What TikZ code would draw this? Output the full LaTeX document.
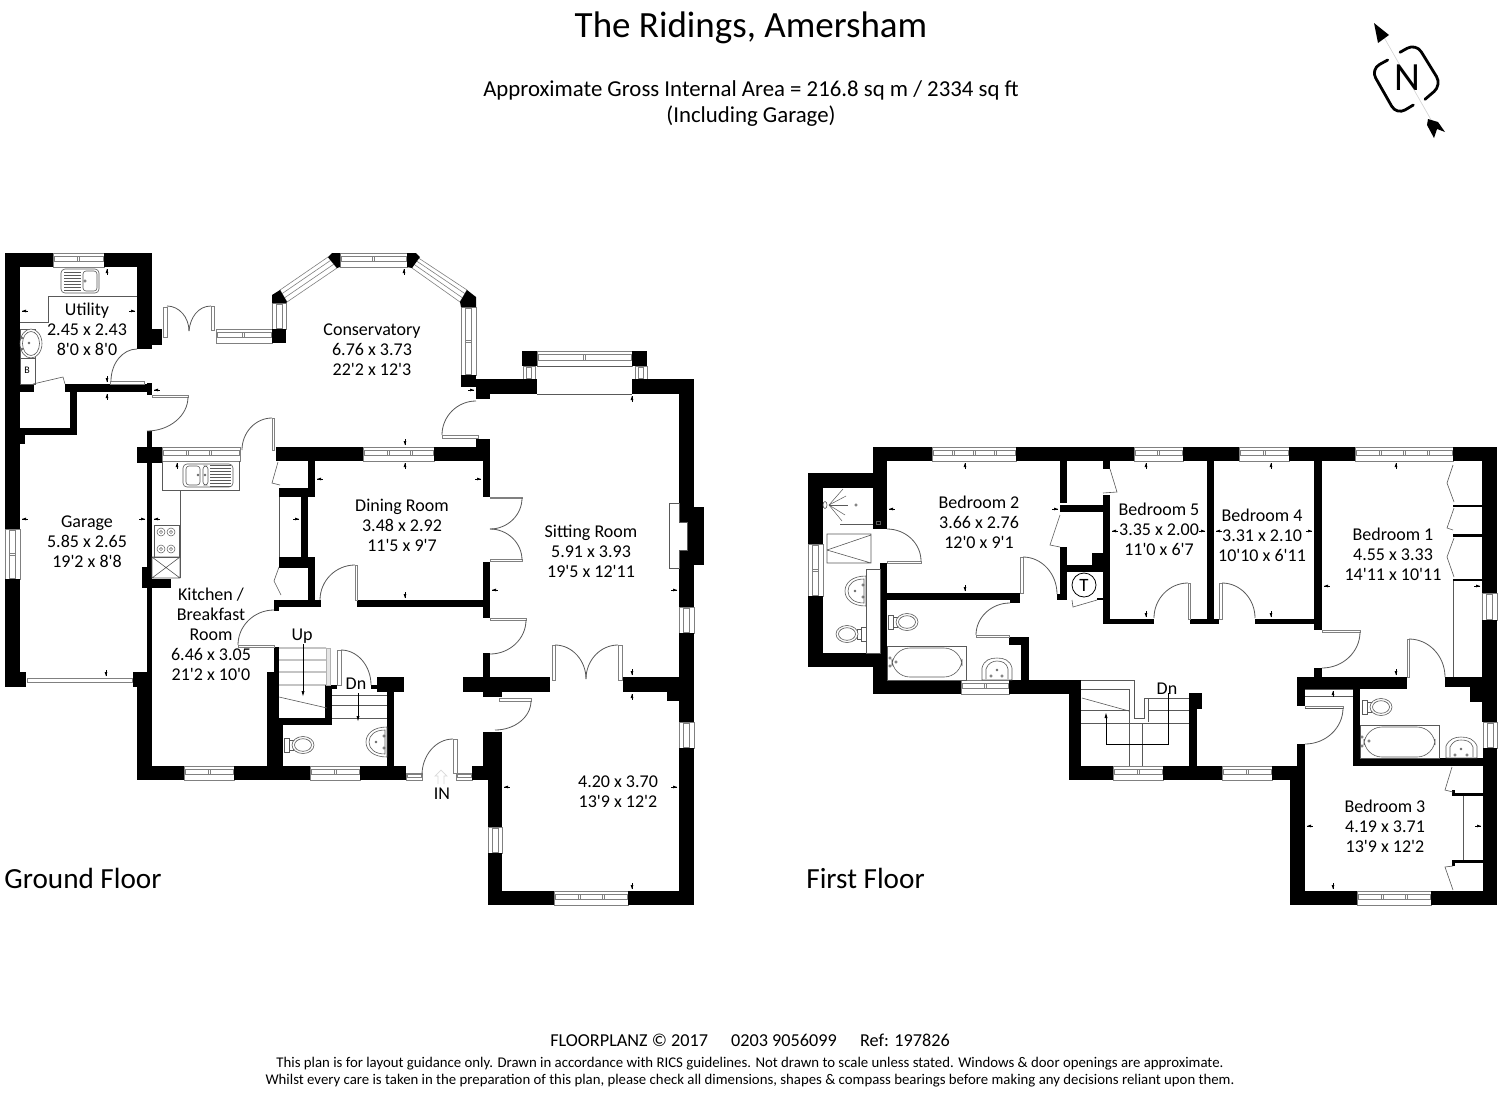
\documentclass[tikz,border=0pt]{standalone}
\usepackage{fontspec}
\setmainfont{Carlito}[Ligatures=TeXOff]
\usetikzlibrary{calc}
\definecolor{ln}{gray}{0.35}
\definecolor{wn}{gray}{0.5}
\newcommand\W[4]{\fill[black] (#1,#2) rectangle (#3,#4);}
\newcommand\WH[5]{%
 \draw[wn,line width=.3pt,fill=white] (#1,#3) rectangle (#2,#4);
 \draw[wn,line width=.3pt] ({#1+1},{#3+.25*(#4-#3)}) rectangle ({#2-1},{#3+.6*(#4-#3)});
 \foreach \m in {#5}{\draw[wn,line width=.3pt] (\m-1,{#3+.25*(#4-#3)}) rectangle (\m+1,{#3+.6*(#4-#3)});}}
\newcommand\WV[5]{%
 \draw[wn,line width=.3pt,fill=white] (#3,#1) rectangle (#4,#2);
 \draw[wn,line width=.3pt] ({#3+.3*(#4-#3)},{#1+1}) rectangle ({#3+.7*(#4-#3)},{#2-1});
 \foreach \m in {#5}{\draw[wn,line width=.3pt] ({#3+.3*(#4-#3)},\m-1) rectangle ({#3+.7*(#4-#3)},\m+1);}}
\newcommand\WD[8]{%
 \draw[wn,line width=.3pt,fill=white] (#1,#2)--(#3,#4)--(#7,#8)--(#5,#6)--cycle;
 \draw[wn,line width=.3pt] ($(#1,#2)!.3!(#5,#6)$)--($(#3,#4)!.3!(#7,#8)$) ($(#1,#2)!.65!(#5,#6)$)--($(#3,#4)!.65!(#7,#8)$);}
% quarter arcs: h = leaves start horizontally, v = leaves start vertically
\newcommand\qh[4]{\draw[ln,line width=.4pt] (#1,#2) .. controls ({#1+.55*(#3-#1)},#2) and (#3,{#4-.55*(#4-#2)}) .. (#3,#4);}
\newcommand\qv[4]{\draw[ln,line width=.4pt] (#1,#2) .. controls (#1,{#2+.55*(#4-#2)}) and ({#3-.55*(#3-#1)},#4) .. (#3,#4);}
\newcommand\leaf[4]{\draw[wn,line width=.35pt,fill=white] (#1,#2) rectangle (#3,#4);}
\newcommand\mU[2]{\fill (#1,#2+2)--(#1+1.4,#2+6)--(#1-1.4,#2+6)--cycle; \draw[line width=.3pt] (#1,#2+2)--(#1,#2+8);}
\newcommand\mD[2]{\fill (#1,#2-2)--(#1+1.4,#2-6)--(#1-1.4,#2-6)--cycle; \draw[line width=.3pt] (#1,#2-2)--(#1,#2-8);}
\newcommand\mL[2]{\fill (#1+2,#2)--(#1+6,#2+1.4)--(#1+6,#2-1.4)--cycle; \draw[line width=.3pt] (#1+2,#2)--(#1+8,#2);}
\newcommand\mR[2]{\fill (#1-2,#2)--(#1-6,#2+1.4)--(#1-6,#2-1.4)--cycle; \draw[line width=.3pt] (#1-2,#2)--(#1-8,#2);}
\newcommand\toil[3]{\begin{scope}[shift={(#1,#2)},rotate=#3]
 \draw[ln,line width=.3pt] (0,-7) rectangle (5,7) (5,-5) rectangle (9,5);
 \draw[ln,line width=.3pt,fill=white] (19,0) ellipse (11 and 8.5) (19,0) ellipse (8.5 and 6.3);
 \end{scope}}
\newcommand\basin[3]{\begin{scope}[shift={(#1,#2)},rotate=#3]
 \draw[ln,line width=.3pt] (0,-15) .. controls (14,-15) and (21,-8) .. (21,0) .. controls (21,8) and (14,15) .. (0,15)--cycle;
 \draw[ln,line width=.3pt] (2,-12) .. controls (12,-12) and (18,-7) .. (18,0) .. controls (18,7) and (12,12) .. (2,12)--cycle;
 \draw[ln,line width=.25pt] (11,0) circle (1) (3,-6) circle (1.2) (3,6) circle (1.2);
 \end{scope}}
\tikzset{lab/.style={font=\fontsize{9}{10}\selectfont,align=center,inner sep=0pt},
 thinl/.style={ln,line width=.3pt}}
\begin{document}
\begin{tikzpicture}[x=.5pt,y=-.5pt]
\useasboundingbox (0,0) rectangle (1500,1093);
\fill[white] (0,0) rectangle (1500,1093);
% ---------------- titles
\node[inner sep=0pt,font=\fontsize{18.5}{20}\selectfont] (title) at (751,28) {The Ridings, Amersham};
\node[inner sep=0pt,font=\fontsize{11.4}{13}\selectfont,align=center] (area) at (751,104) {Approximate Gross Internal Area = 216.8 sq m / 2334 sq ft\\[0pt](Including Garage)};
\node[inner sep=0pt,anchor=west,font=\fontsize{14.6}{16}\selectfont] (gf) at (4,878) {Ground Floor};
\node[inner sep=0pt,anchor=west,font=\fontsize{14.6}{16}\selectfont] (ff) at (806,878) {First Floor};
\node[inner sep=0pt,font=\fontsize{9.1}{10}\selectfont] (foot1) at (750,1040) {FLOORPLANZ © 2017\quad\hspace{2.5pt}0203 9056099\quad\hspace{2.5pt}Ref: 197826};
\node[inner sep=0pt,font=\fontsize{7.4}{8.6}\selectfont,align=center] (foot2) at (750,1072.5) {This plan is for layout guidance only. Drawn in accordance with RICS guidelines. Not drawn to scale unless stated. Windows \& door openings are approximate.\\Whilst every care is taken in the preparation of this plan, please check all dimensions, shapes \& compass bearings before making any decisions reliant upon them.};
% ---------------- north arrow
\draw[black!18,line width=.3pt] (1381.7,33.3)--(1435,126.7);
\draw[line width=1.4pt,rounded corners=5pt,line cap=round] (1400,52.3)--(1416,43.3)--(1441.7,85)--(1425,99.3);
\draw[line width=1.4pt,rounded corners=5pt,line cap=round] (1413.3,105)--(1396.7,115)--(1370.7,69.3)--(1387.7,60);
\node[inner sep=0pt,font=\fontsize{20}{20}\selectfont] (north) at (1407,78) {N};
\fill (1374,23)--(1389,35)--(1378,43)--cycle;
\fill (1428,119)--(1438,122)--(1445,132)--(1437,129)--(1434,138)--(1427,125)--cycle;
% ================= GROUND FLOOR
% windows
\WH{53}{104}{253}{267}{78}
\WV{529}{579}{5}{20}{554}
\WH{216}{272}{329}{343}{243}
\WV{303}{329}{272}{286}{}
\WH{340}{407}{253}{267}{373}
\WD{328}{257}{280}{290}{337}{268}{287}{302}
\WD{417}{257}{467}{290}{412}{268}{460}{302}
\WV{307}{375}{461}{476}{341}
\WH{537}{632}{351}{366}{584}
\WV{366}{379}{523}{535}{}
\WV{366}{379}{635}{647}{}
\draw[thinl] (537,366)--(632,366) (537,394)--(632,394);
\WH{162}{240}{447}{461}{187,210}
\WH{363}{434}{447}{461}{388,411}
\WH{184}{234}{766}{780}{209}
\WH{310}{360}{766}{780}{335}
\WH{406}{422}{773}{780}{}
\WH{456}{472}{773}{780}{}
\WV{607}{633}{679}{694}{}
\WV{722}{748}{679}{694}{}
\WV{827}{853}{488}{502}{}
\WH{554}{628}{891}{905}{579,603}
% walls
\W{5}{253}{20}{529}\W{5}{579}{20}{687}\W{20}{672}{26}{687}
\W{20}{253}{53}{267}\W{104}{253}{152}{267}\W{137}{267}{152}{349}\W{152}{329}{162}{345}
\W{20}{384}{34}{392}\W{65}{384}{147}{392}\W{147}{383}{152}{395}\W{70}{392}{77}{435}
\W{20}{428}{77}{435}\W{20}{435}{25}{444}
\W{147}{431}{152}{672}\W{137}{447}{162}{463}\W{142}{567}{152}{588}\W{152}{579}{171}{588}
\W{133}{672}{152}{687}\W{137}{687}{152}{780}\W{152}{766}{184}{780}\W{234}{766}{310}{780}
\W{360}{766}{406}{780}\W{472}{766}{488}{780}
\W{267}{672}{279}{766}\W{279}{718}{283}{766}\W{274}{647}{279}{672}
\W{279}{718}{332}{725}\W{325}{685}{332}{725}\W{325}{685}{337}{689}
\W{387}{692}{394}{766}\W{377}{677}{404}{692}\W{371}{685}{377}{689}
\W{463}{677}{550}{692}\W{483}{692}{502}{697}\W{483}{653}{490}{677}\W{483}{562}{490}{618}
\W{483}{447}{490}{497}\W{476}{439}{490}{447}\W{276}{447}{363}{461}\W{434}{447}{490}{461}
\W{308}{461}{315}{497}\W{279}{488}{315}{497}\W{301}{497}{308}{558}\W{279}{557}{315}{568}
\W{308}{568}{315}{607}\W{274}{600}{321}{607}\W{274}{600}{279}{611}\W{357}{600}{483}{607}
\W{476}{379}{537}{394}\W{632}{379}{694}{394}\W{679}{394}{694}{607}\W{679}{633}{694}{722}
\W{679}{748}{694}{905}\W{694}{507}{704}{565}
\W{522}{351}{537}{366}\W{632}{351}{647}{366}
\W{476}{394}{490}{399}\W{461}{375}{476}{387}\W{272}{329}{286}{343}
\W{623}{677}{679}{692}\W{667}{692}{679}{701}\W{483}{732}{502}{780}\W{488}{780}{502}{827}
\W{488}{853}{502}{905}\W{502}{891}{554}{905}\W{628}{891}{694}{905}
% conservatory corners
\fill (332,253)--(340,253)--(340,267)--(337,268)--(328,257)--cycle;
\fill (407,253)--(416,253)--(420,257)--(412,268)--(407,267)--cycle;
\fill (467,290)--(476,297)--(476,307)--(461,307)--(460,302)--cycle;
\fill (280,290)--(287,302)--(286,303)--(272,303)--(272,295)--cycle;
% hearth
\draw[thinl,fill=white] (669,503) rectangle (679,568);
\fill[white] (679,522) rectangle (687,550);
\draw[thinl] (679,522)--(687,522)--(687,550)--(679,550);
% doors ground
\leaf{163}{307}{167}{337}\leaf{211}{306}{214}{330}
\qh{167}{306}{189}{331}\draw[ln,line width=.4pt] (189,331) .. controls (190,318) and (198,306) .. (211,306);
\leaf{110}{381}{144}{384}\qv{111}{381}{137}{349}
\leaf{152}{395}{188}{397}\qv{188}{397}{147}{431}
\leaf{272}{418}{274}{450}\qh{272}{418}{242}{450}
\leaf{442}{435}{478}{438}\qv{442}{435}{476}{401}
\leaf{490}{497}{522}{498.5}\qv{522}{498}{490}{529}
\leaf{490}{559.5}{522}{561}\qv{522}{560}{490}{529}
\leaf{490}{618}{526}{620}\qv{526}{620}{490}{654}
\leaf{552}{645}{555}{680}\leaf{618}{645}{622}{680}
\qh{555}{645}{586}{679}\qh{618}{645}{586}{679}
\leaf{499}{698}{531}{701}\qv{531}{701}{495}{730}
\leaf{453}{739}{457}{773}\qh{453}{739}{422}{775}
\leaf{337}{650}{341}{685}\qh{341}{650}{371}{685}
\leaf{238}{645}{274}{647}\qv{238}{645}{274}{610}
\leaf{355}{565}{357}{600}\qh{355}{565}{320}{600}
\leaf{27}{678}{132}{682}
% cupboard doors + lines
\draw[thinl] (33,384)--(63,377)--(65,384);
\draw[thinl] (278,462)--(272,483)--(280,485);
\draw[thinl] (279,567)--(274,581)--(281,595);
\draw[thinl] (279,497)--(279,557);
% utility fittings
\draw[thinl] (137,296)--(48,296)--(48,322)--(20,322);
\draw[thinl,rounded corners=2pt] (61,269) rectangle (99,293);
\draw[thinl,rounded corners=1.5pt] (83,271) rectangle (97,291);
\foreach \y in {272,275,...,290}{\draw[ln,line width=.2pt] (64,\y)--(81,\y);}
\draw[thinl] (85,281) circle (1.2);
\draw[thinl] (20,329) rectangle (35,358);
\draw[thinl,fill=white] (31,343.5) ellipse (11 and 14.5) (31,343.5) ellipse (8.5 and 12);
\draw[ln,line width=.25pt] (29,343) circle (1) (22,338) circle (1) (22,349) circle (1);
\draw[thinl] (20,358) rectangle (35,384);
\node[inner sep=0pt,font=\fontsize{5}{6}\selectfont] (boil) at (27,370) {B};
% kitchen fittings
\draw[thinl] (162,461)--(162,490)--(180,490) (239,461)--(239,490)--(180,490)--(180,578);
\draw[thinl,rounded corners=2pt] (183,464) rectangle (233,487);
\draw[thinl,rounded corners=1.5pt] (186,466) rectangle (200,485) (203,466) rectangle (208,485);
\foreach \y in {465,468,...,486}{\draw[ln,line width=.2pt] (210,\y)--(231,\y);}
\draw[ln,line width=.25pt] (198,475) circle (1) (205,475) circle (1);
\draw[thinl] (154,525) rectangle (179,557);
\foreach \p in {(161,532),(171,532),(161,549),(171,549)}{\draw[ln,line width=.25pt] \p circle (4) \p circle (1.6);}
\draw[thinl] (152,557) rectangle (180,578) (152,557)--(180,578) (180,557)--(152,578);
% stairs up
\draw[thinl] (279,648)--(326,648) (279,660)--(326,660) (279,672)--(326,672) (279,685)--(326,685) (279,697)--(327,708);
\draw[black!30,line width=.4pt,fill=black!10] (326,648) rectangle (330,685);
\draw[line width=.3pt] (303,644)--(303,692); \fill (303,696)--(301.5,691)--(304.5,691)--cycle;
% stairs down
\draw[thinl] (332,695)--(387,695) (332,705)--(387,705) (332,718)--(387,718);
\draw[line width=.3pt] (358,693)--(358,717); \fill (358,721)--(356.5,716)--(359.5,716)--cycle;
% wc
\toil{284}{745}{0}
\basin{387}{742}{180}
% IN arrow
\draw[black!15,line width=.35pt] (438,784)--(438,776)--(435,776)--(441,770)--(447,776)--(444,776)--(444,784);
% marks ground
\mL{20}{311}\mR{137}{311}\mU{107}{267}\mD{107}{384}\mU{107}{392}\mL{152}{390}
\mL{20}{519}\mR{147}{519}\mL{152}{519}\mU{177}{461}\mR{301}{519}\mD{106}{678}\mU{177}{766}
\mU{404}{267}\mR{476}{390}\mD{405}{447}\mU{405}{461}\mL{315}{479}\mR{483}{479}\mD{405}{600}
\mU{632}{394}\mL{490}{590}\mR{679}{590}\mD{632}{677}\mU{632}{692}\mL{502}{787}\mR{679}{787}\mD{632}{891}
% ================= FIRST FLOOR
\WH{932}{1016}{447}{461}{953,974,995}
\WH{1134}{1183}{447}{461}{1158}
\WH{1239}{1289}{447}{461}{1264}
\WH{1355}{1453}{447}{461}{1380,1404,1428}
\WV{544}{596}{808}{823}{570}
\WH{961}{1009}{680}{694}{985}
\WH{1113}{1163}{766}{780}{1138}
\WH{1222}{1272}{766}{780}{1247}
\WH{1357}{1431}{891}{905}{1382,1406}
\WV{593}{620}{1482}{1497}{}
\WV{722}{748}{1483}{1497}{}
\W{873}{447}{932}{461}\W{1016}{447}{1134}{461}\W{1183}{447}{1239}{461}\W{1289}{447}{1355}{461}\W{1453}{447}{1497}{461}
\W{873}{461}{887}{529}\W{880}{563}{887}{680}\W{808}{473}{873}{488}\W{808}{473}{823}{544}\W{808}{596}{823}{667}
\W{808}{653}{873}{667}\W{873}{653}{887}{694}\W{873}{680}{961}{694}\W{1009}{680}{1081}{694}
\W{880}{593}{1020}{600}\W{1010}{593}{1020}{603}\W{1009}{637}{1029}{645}\W{1021}{640}{1029}{680}
\W{1060}{461}{1067}{503}\W{1060}{505}{1103}{512}\W{1060}{547}{1067}{600}\W{1057}{594}{1067}{600}
\W{1067}{565}{1103}{572}\W{1092}{553}{1103}{565}\W{1103}{495}{1110}{624}\W{1103}{461}{1110}{469}\W{1097}{598}{1103}{600}
\W{1103}{619}{1154}{624}\W{1190}{619}{1219}{624}\W{1207}{461}{1214}{619}\W{1255}{619}{1322}{624}\W{1314}{461}{1322}{630}
\W{1314}{668}{1322}{677}\W{1297}{677}{1407}{689}\W{1297}{677}{1305}{706}\W{1353}{689}{1360}{766}\W{1353}{758}{1483}{766}
\W{1445}{677}{1483}{687}\W{1470}{687}{1483}{702}\W{1482}{447}{1497}{593}\W{1482}{620}{1497}{722}\W{1483}{748}{1497}{905}
\W{1069}{680}{1081}{780}\W{1069}{766}{1113}{780}\W{1163}{766}{1222}{780}\W{1272}{766}{1297}{780}
\W{1189}{693}{1197}{766}\W{1189}{693}{1202}{709}\W{1297}{744}{1305}{891}\W{1290}{766}{1305}{905}
\W{1290}{891}{1357}{905}\W{1431}{891}{1497}{905}
\W{1452}{793}{1483}{796}\W{1452}{860}{1483}{863}\W{1452}{790}{1455}{796}\W{1452}{860}{1455}{866}
\W{1453}{505}{1482}{507}\W{1453}{534}{1482}{537}\W{1453}{579}{1482}{581}
% doors first
\leaf{887}{561}{921}{563}\qv{921}{561}{887}{529}
\leaf{1020}{557}{1023}{593}\qh{1023}{557}{1057}{594}
\leaf{976}{635}{1009}{637}\qv{976}{635}{1010}{603}
\leaf{1188}{583}{1190}{619}\qh{1188}{583}{1154}{618}
\leaf{1219}{583}{1222}{619}\qh{1222}{583}{1255}{618}
\leaf{1322}{630}{1360}{632}\qv{1360}{632}{1322}{668}
\leaf{1407}{639}{1409}{677}\qh{1409}{639}{1445}{677}
\leaf{1305}{706}{1343}{708}\qv{1343}{708}{1305}{744}
% cupboards first
\draw[thinl] (1060,515)--(1050,545)--(1060,547);
\draw[thinl] (1110,469)--(1117,492)--(1103,493);
\draw[thinl] (1072,600)--(1073,607)--(1097,600);
\draw[line width=.4pt] (1084,585) circle (12);
\node[inner sep=0pt,font=\fontsize{9.4}{10}\selectfont] (tank) at (1084,585) {T};
\draw[thinl] (1453,465)--(1447,483)--(1454,502) (1454,508)--(1447,528)--(1453,530) (1454,538)--(1447,557)--(1454,577);
\draw[thinl] (1453,581)--(1453,677);
\draw[thinl] (1452,767)--(1445,790)--(1453,792) (1453,866)--(1445,867)--(1453,890);
\draw[thinl] (1463,796)--(1463,860);
\draw[thinl] (1305,689)--(1353,689) (1305,696)--(1353,696) (1305,708)--(1343,708);
% en-suite
\draw[thinl] (827,534) rectangle (871,563) (827,550)--(871,535) (827,550)--(871,563);
\draw[thinl] (840,524)--(873,524) (876,521) rectangle (880,524);
\foreach \a/\b in {843/489,846/496,848/505,845/515,842/521}{\draw[ln,line width=.25pt] (829,505)--(\a,\b);}
\draw[thinl] (825,505) ellipse (2 and 3.5) (856,505) circle (1.3);
\draw[thinl] (866,569) rectangle (880,653);
\basin{866}{591}{180}
\toil{866}{634}{180}
% bathroom 1
\toil{888}{622}{0}
\draw[thinl] (887,646) rectangle (966,680);
\draw[thinl,rounded corners=9pt] (892,648) rectangle (962,677);
\draw[ln,line width=.25pt] (896,662) circle (1.2) (890,658) circle (1.2) (890,666) circle (1.2);
\draw[thinl] (982,680)--(982,668) .. controls (984,660) and (990,658) .. (997,658) .. controls (1004,658) and (1010,660) .. (1012,668)--(1012,680)--cycle;
\draw[thinl] (986,679)--(986,669) .. controls (988,663) and (993,661) .. (997,661) .. controls (1002,661) and (1007,663) .. (1008,669)--(1008,679);
\draw[ln,line width=.25pt] (997,670) circle (1) (991,676) circle (1.2) (1002,676) circle (1.2);
% bathroom 2
\toil{1362}{707}{0}
\draw[thinl] (1360,725) rectangle (1439,758);
\draw[thinl,rounded corners=9pt] (1364,727) rectangle (1435,757);
\draw[ln,line width=.25pt] (1369,741) circle (1.2) (1362,737) circle (1.2) (1362,746) circle (1.2);
\draw[thinl] (1446,758)--(1446,746) .. controls (1449,739) and (1455,737) .. (1461,737) .. controls (1468,737) and (1474,739) .. (1477,746)--(1477,758)--cycle;
\draw[thinl] (1450,757)--(1450,747) .. controls (1453,741) and (1457,740) .. (1461,740) .. controls (1466,740) and (1471,741) .. (1473,747)--(1473,757);
\draw[ln,line width=.25pt] (1461,749) circle (1) (1455,755) circle (1.2) (1467,755) circle (1.2);
% stairs first
\draw[thinl] (1081,680)--(1134,680)--(1134,718)--(1144,718)--(1144,698)--(1189,698);
\draw[thinl] (1081,689)--(1129,689)--(1129,766) (1142,723)--(1142,766);
\draw[thinl] (1081,710)--(1129,710) (1148,710)--(1189,710) (1081,723)--(1189,723) (1148,698)--(1148,722);
\draw[thinl] (1082,698)--(1129,711);
\draw[line width=.3pt] (1168,693)--(1168,744)--(1106,744)--(1106,717);
\fill (1106,713)--(1104.5,718)--(1107.5,718)--cycle;
% marks first
\mU{965}{461}\mL{887}{509}\mR{1060}{509}\mD{965}{593}\mU{1146}{461}\mL{1110}{531}\mR{1207}{531}\mD{1146}{619}
\mU{1271}{461}\mL{1214}{531}\mR{1314}{531}\mD{1271}{619}\mU{1396}{461}\mL{1322}{586}\mR{1482}{586}\mD{1396}{677}
\mU{1333}{689}\mL{1305}{826}\mR{1483}{826}\mD{1333}{891}
% room labels
\node[lab] (utility) at (87,329) {Utility\\2.45 x 2.43\\8'0 x 8'0};
\node[lab] (cons) at (372,350) {Conservatory\\6.76 x 3.73\\22'2 x 12'3};
\node[lab] (garage) at (87,542) {Garage\\5.85 x 2.65\\19'2 x 8'8};
\node[lab] (dining) at (402,525) {Dining Room\\3.48 x 2.92\\11'5 x 9'7};
\node[lab] (sitting) at (591,551) {Sitting Room\\5.91 x 3.93\\19'5 x 12'11};
\node[lab] (kitchen) at (211,634) {Kitchen /\\Breakfast\\Room\\6.46 x 3.05\\21'2 x 10'0};
\node[lab] (lounge) at (618,792) {4.20 x 3.70\\13'9 x 12'2};
\node[lab] (bed2) at (979,522) {Bedroom 2\\3.66 x 2.76\\12'0 x 9'1};
\node[lab] (bed5) at (1159,529) {Bedroom 5\\3.35 x 2.00\\11'0 x 6'7};
\node[lab] (bed4) at (1262,535) {Bedroom 4\\3.31 x 2.10\\10'10 x 6'11};
\node[lab] (bed1) at (1393,554) {Bedroom 1\\4.55 x 3.33\\14'11 x 10'11};
\node[lab] (bed3) at (1385,826) {Bedroom 3\\4.19 x 3.71\\13'9 x 12'2};
\node[lab] (up) at (302,636) {Up};
\node[lab] (dn1) at (356,684) {Dn};
\node[lab] (dn2) at (1167,689) {Dn};
\node[lab] (in) at (442,794) {IN};
\end{tikzpicture}
\end{document}
